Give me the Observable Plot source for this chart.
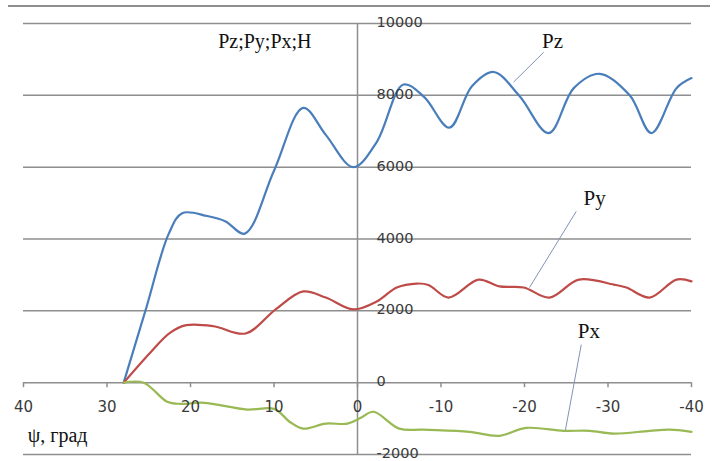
<!DOCTYPE html>
<html>
<head>
<meta charset="utf-8">
<script src="https://cdn.jsdelivr.net/npm/d3@7"></script>
<script src="https://cdn.jsdelivr.net/npm/@observablehq/plot@0.6"></script>
<style>
  html, body { margin: 0; padding: 0; background: #fff; }
  #wrap { position: relative; width: 716px; height: 461px; }
  #topline { position: absolute; left: 8px; top: 5px; width: 702px; border-top: 2px solid #8e8e8e; }
</style>
</head>
<body>
<div id="wrap"><div id="topline"></div><div id="chart"></div></div>
<script>
// ψ (deg) vs force (H)
const pzPsi = [28, 25.3, 22.6, 21, 18, 15.8, 13.5, 10, 6.5, 3.8, 0.5, -2.3, -5.5, -8, -11, -13.7, -16.3, -19.4, -22.9, -25.9, -29, -32.6, -35.2, -38.2, -40];
const pzVal = [0, 2080, 4150, 4720, 4640, 4490, 4150, 5900, 7650, 6900, 6000, 6700, 8300, 7950, 7100, 8250, 8650, 7980, 6950, 8200, 8600, 8000, 6950, 8200, 8480];

const pyPsi = [28, 24.8, 22.5, 20.5, 17.2, 13.4, 9.8, 6.5, 3.8, 0.5, -2.3, -4.7, -7.1, -8.5, -10.9, -14.5, -17, -19.9, -23, -26.5, -30.7, -32.2, -35, -38.2, -40];
const pyVal = [0, 840, 1380, 1600, 1570, 1370, 2040, 2540, 2370, 2040, 2260, 2650, 2760, 2720, 2370, 2870, 2680, 2650, 2370, 2870, 2730, 2650, 2370, 2870, 2820];

const pxPsi = [28, 25.6, 22.8, 21.2, 18.4, 13.2, 10, 8, 6.5, 3.8, 1.2, -0.4, -1.9, -5, -7.9, -13.4, -16.9, -20.2, -24.7, -27.8, -30.7, -35, -37.4, -40];
const pxVal = [0, 0, -530, -590, -560, -750, -730, -1110, -1280, -1140, -1140, -980, -810, -1280, -1310, -1370, -1480, -1260, -1340, -1340, -1420, -1340, -1310, -1370];

const xTicks = [40, 30, 20, 10, 0, -10, -20, -30, -40];
const yTicks = [-2000, 0, 2000, 4000, 6000, 8000, 10000];

const seriesNames = ["Pz", "Py", "Px"];
const seriesColors = ["#4a7ebb", "#be4b48", "#98b954"];
// label anchor (text position) and leader endpoint on the curve
const labelPsi = [-23.35, -28.4, -27.7];
const labelVal = [9510, 5130, 1420];
const leaderFromPsi = [-22.3, -26.2, -26.8];
const leaderFromVal = [9200, 4770, 1060];
const leaderToPsi = [-18.7, -20.6, -24.9];
const leaderToVal = [8370, 2650, -1320];

const yTitle = "Pz;Py;Px;H";
const xTitle = "ψ, град";

const toRows = (xs, ys, name) => xs.map((x, i) => ({psi: x, v: ys[i], s: name}));
const rows = [
  ...toRows(pzPsi, pzVal, "Pz"),
  ...toRows(pyPsi, pyVal, "Py"),
  ...toRows(pxPsi, pxVal, "Px")
];
const labels = seriesNames.map((s, i) => ({
  s, lx: labelPsi[i], ly: labelVal[i],
  x1: leaderFromPsi[i], y1: leaderFromVal[i], x2: leaderToPsi[i], y2: leaderToVal[i]
}));

const gridColor = "#8e8e8e";
const tickFont = "DejaVu Sans, Verdana, sans-serif";
const serif = "Liberation Serif, Times New Roman, serif";

const chart = Plot.plot({
  width: 716,
  height: 461,
  marginLeft: 23,
  marginRight: 25,
  marginTop: 23,
  marginBottom: 7,
  x: {domain: [40, -40], axis: null},
  y: {domain: [-2000, 10000], axis: null},
  color: {domain: seriesNames, range: seriesColors},
  marks: [
    Plot.ruleY(yTicks, {stroke: gridColor, strokeWidth: 1.5, strokeOpacity: 1}),
    Plot.ruleX([0], {y1: -2000, y2: 10000, stroke: gridColor, strokeWidth: 1.5}),
    Plot.ruleX(xTicks, {x: d => d, y1: 0, y2: 0, insetBottom: -5, stroke: gridColor, strokeWidth: 1.5}),
    Plot.line(rows, {x: "psi", y: "v", z: "s", stroke: "s", strokeWidth: 2.2, curve: "catmull-rom"}),
    Plot.link(labels, {x1: "x1", y1: "y1", x2: "x2", y2: "y2", stroke: "#8094b4", strokeWidth: 1}),
    Plot.text(labels, {x: "lx", y: "ly", text: "s", fontFamily: serif, fontSize: 21, fill: "#111", textAnchor: "middle", lineAnchor: "middle"}),
    Plot.text(yTicks, {x: 0, y: d => d, text: d => String(d), dx: 19, dy: -1, textAnchor: "start", lineAnchor: "middle", fontFamily: tickFont, fontSize: 14.5, fill: "#3a3a3a"}),
    Plot.text(xTicks, {x: d => d, y: 0, text: d => String(d), dy: 25, textAnchor: "middle", lineAnchor: "middle", fontFamily: tickFont, fontSize: 15, fill: "#3a3a3a"}),
    Plot.text([yTitle], {x: 11.1, y: 9510, text: d => d, fontFamily: serif, fontSize: 20, fill: "#111", textAnchor: "middle", lineAnchor: "middle"}),
    Plot.text([xTitle], {x: 39.5, y: -1480, text: d => d, fontFamily: serif, fontSize: 20, fill: "#111", textAnchor: "start", lineAnchor: "middle"})
  ]
});
document.getElementById("chart").appendChild(chart);
</script>
</body>
</html>
